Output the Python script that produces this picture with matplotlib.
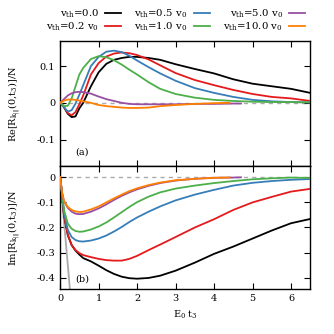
import matplotlib
matplotlib.use("Agg")
import matplotlib.pyplot as plt

plt.rcParams['font.family'] = ['DejaVu Serif']
plt.rcParams['mathtext.fontset'] = 'dejavuserif'
plt.rcParams['font.size'] = 7

t_full = [0, 0.05, 0.1, 0.2, 0.3, 0.4, 0.5, 0.6, 0.8, 1.0, 1.2, 1.4, 1.6, 1.8, 2.0,
          2.3, 2.6, 3.0, 3.5, 4.0, 4.5, 5.0, 5.5, 6.0, 6.5]
t_purple = [0, 0.05, 0.1, 0.2, 0.3, 0.4, 0.5, 0.6, 0.8, 1.0, 1.2, 1.4, 1.6, 1.8, 2.0,
            2.3, 2.6, 3.0, 3.5, 4.0, 4.5, 4.7]
t_orange = [0, 0.05, 0.1, 0.2, 0.3, 0.4, 0.5, 0.6, 0.8, 1.0, 1.2, 1.4, 1.6, 1.8, 2.0,
            2.3, 2.6, 3.0, 3.5, 4.0, 4.4]

labels = [r'v$_{\rm th}$=0.0', r'v$_{\rm th}$=0.2 v$_0$', r'v$_{\rm th}$=0.5 v$_0$',
          r'v$_{\rm th}$=1.0 v$_0$', r'v$_{\rm th}$=5.0 v$_0$', r'v$_{\rm th}$=10.0 v$_0$']
colors = ['black', '#e41a1c', '#377eb8', '#4daf4a', '#984ea3', '#ff7f00']

re_black = [0, -0.005, -0.012, -0.030, -0.039, -0.037, -0.015, 0.0, 0.045, 0.083, 0.106,
            0.117, 0.122, 0.125, 0.125, 0.122, 0.117, 0.105, 0.092, 0.080, 0.064, 0.052,
            0.045, 0.038, 0.027]
re_red = [0, -0.005, -0.012, -0.028, -0.034, -0.025, -0.004, 0.020, 0.077, 0.108, 0.126,
          0.134, 0.137, 0.135, 0.130, 0.118, 0.102, 0.081, 0.062, 0.048, 0.035, 0.024,
          0.016, 0.012, 0.005]
re_blue = [0, -0.005, -0.012, -0.024, -0.020, -0.002, 0.022, 0.048, 0.100, 0.125, 0.139,
           0.142, 0.138, 0.128, 0.115, 0.097, 0.080, 0.060, 0.040, 0.027, 0.016, 0.008,
           0.004, 0.002, 0.001]
re_green = [0, -0.004, -0.009, -0.008, 0.012, 0.045, 0.077, 0.095, 0.119, 0.127, 0.124,
            0.116, 0.104, 0.090, 0.077, 0.056, 0.038, 0.024, 0.014, 0.008, 0.005, 0.003,
            0.002, 0.002, 0.001]
re_purple = [0, 0.005, 0.010, 0.020, 0.026, 0.029, 0.030, 0.029, 0.025, 0.017, 0.010,
             0.005, 0.000, -0.003, -0.004, -0.004, -0.004, -0.004, -0.003, -0.003,
             -0.002, -0.002]
re_orange = [0, 0.003, 0.006, 0.009, 0.009, 0.008, 0.006, 0.004, 0.000, -0.006, -0.009,
             -0.011, -0.013, -0.014, -0.014, -0.013, -0.009, -0.006, -0.003, -0.001, 0.0]

im_black = [0, -0.065, -0.15, -0.23, -0.27, -0.292, -0.308, -0.322, -0.335, -0.352, -0.370,
            -0.385, -0.396, -0.402, -0.404, -0.401, -0.392, -0.372, -0.340, -0.305, -0.276,
            -0.244, -0.212, -0.183, -0.166]
im_red = [0, -0.065, -0.15, -0.23, -0.27, -0.29, -0.302, -0.310, -0.318, -0.325, -0.330,
          -0.332, -0.332, -0.325, -0.313, -0.290, -0.268, -0.238, -0.200, -0.167, -0.130,
          -0.100, -0.078, -0.057, -0.046]
im_blue = [0, -0.065, -0.14, -0.21, -0.238, -0.250, -0.255, -0.256, -0.252, -0.244, -0.232,
           -0.216, -0.198, -0.178, -0.160, -0.137, -0.116, -0.092, -0.069, -0.050, -0.033,
           -0.022, -0.015, -0.010, -0.007]
im_green = [0, -0.065, -0.13, -0.185, -0.205, -0.214, -0.217, -0.216, -0.208, -0.196, -0.180,
            -0.160, -0.139, -0.118, -0.099, -0.077, -0.060, -0.045, -0.033, -0.023, -0.015,
            -0.008, -0.004, -0.001, -0.003]
im_purple = [0, -0.06, -0.095, -0.122, -0.137, -0.145, -0.147, -0.146, -0.137, -0.124, -0.108,
             -0.090, -0.074, -0.060, -0.048, -0.034, -0.023, -0.013, -0.006, -0.002, -0.001, 0.0]
im_orange = [0, -0.06, -0.095, -0.118, -0.130, -0.136, -0.138, -0.137, -0.128, -0.116, -0.100,
             -0.084, -0.069, -0.055, -0.044, -0.031, -0.021, -0.012, -0.006, -0.002, -0.001]

t_gray = [0, 0.26]
im_gray = [0, -0.455]

re_series = [(t_full, re_black), (t_full, re_red), (t_full, re_blue), (t_full, re_green),
             (t_purple, re_purple), (t_orange, re_orange)]
im_series = [(t_full, im_black), (t_full, im_red), (t_full, im_blue), (t_full, im_green),
             (t_purple, im_purple), (t_orange, im_orange)]

fig = plt.figure(figsize=(3.34, 3.34), dpi=100)
ax1 = fig.add_axes([0.18, 0.503, 0.749, 0.374])
ax2 = fig.add_axes([0.18, 0.134, 0.749, 0.369])

for ax in (ax1, ax2):
    ax.axhline(0, color='#aaaaaa', ls=(0, (3, 3)), lw=1.0, zorder=1)

handles = []
for (t, v), c, lab in zip(re_series, colors, labels):
    h, = ax1.plot(t, v, color=c, lw=1.3, label=lab, zorder=3)
    handles.append(h)
ax2.plot(t_gray, im_gray, color='#aaaaaa', lw=1.3, zorder=2)
for (t, v), c in zip(im_series, colors):
    ax2.plot(t, v, color=c, lw=1.3, zorder=3)

ax1.set_xlim(0, 6.5)
ax2.set_xlim(0, 6.5)
ax1.set_ylim(-0.172, 0.168)
ax2.set_ylim(-0.446, 0.045)
ax1.set_yticks([-0.1, 0, 0.1])
ax1.set_yticklabels(['-0.1', '0', '0.1'])
ax2.set_yticks([-0.4, -0.3, -0.2, -0.1, 0])
ax2.set_yticklabels(['-0.4', '-0.3', '-0.2', '-0.1', '0'])
ax1.set_xticks(range(7))
ax2.set_xticks(range(7))
ax1.set_xticklabels([])
for ax in (ax1, ax2):
    ax.tick_params(direction='in', top=True, right=True, length=4, width=0.8, labelsize=7)
    for s in ax.spines.values():
        s.set_linewidth(1.0)

ax1.set_ylabel(r'Re[R$_{\mathrm{k}_{|||}}$(0,t$_3$)]/N', fontsize=7, labelpad=4)
ax2.set_ylabel(r'Im[R$_{\mathrm{k}_{|||}}$(0,t$_3$)]/N', fontsize=7, labelpad=4)
ax2.set_xlabel(r'E$_0$ t$_3$', fontsize=7, labelpad=4)
ax1.yaxis.set_label_coords(-0.15, 0.5)
ax2.yaxis.set_label_coords(-0.15, 0.5)
ax1.text(0.06, 0.09, '(a)', transform=ax1.transAxes, fontsize=7)
ax2.text(0.06, 0.06, '(b)', transform=ax2.transAxes, fontsize=7)

fig.legend(handles=handles, loc='upper right', bbox_to_anchor=(0.935, 1.0), ncol=3,
           frameon=False, markerfirst=False, fontsize=7.3, handlelength=1.6,
           columnspacing=1.3, labelspacing=0.05, handletextpad=0.6, borderpad=0.2)

fig.savefig('out.png', dpi=100)
